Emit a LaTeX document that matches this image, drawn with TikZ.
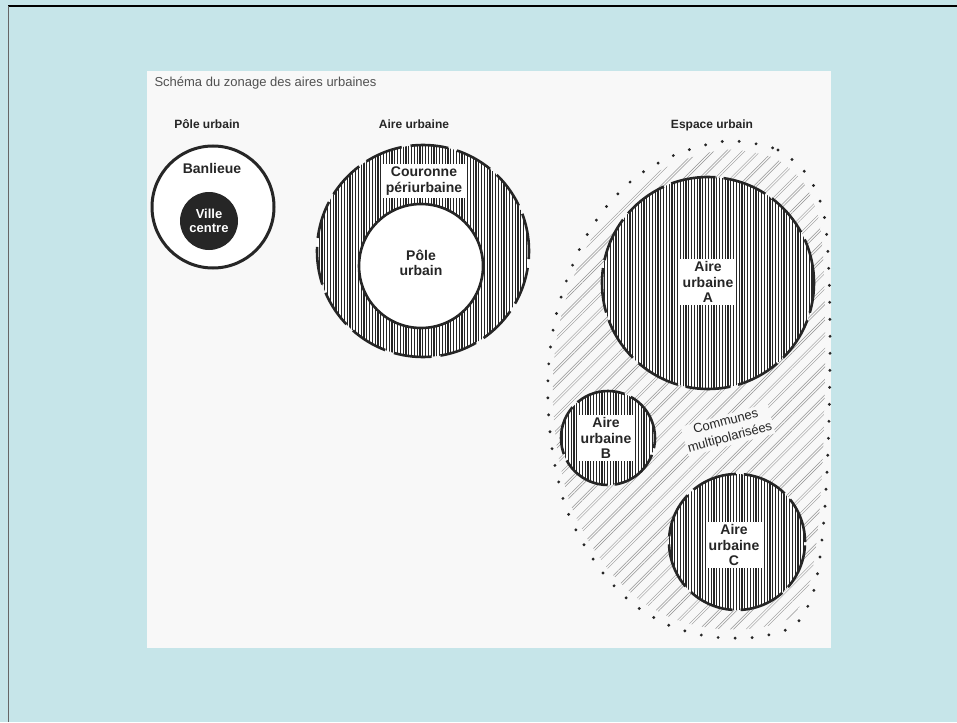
\documentclass[tikz,border=0pt]{standalone}
\usepackage{fontspec}
\setmainfont{Liberation Sans}
\usetikzlibrary{patterns.meta}
\definecolor{fond}{HTML}{C6E5E9}
\definecolor{papier}{HTML}{F8F8F8}
\definecolor{encre}{HTML}{262626}

\begin{document}
\begin{tikzpicture}[x=1pt,y=-1pt,
  every node/.style={font=\fontsize{14}{15.5}\selectfont\bfseries, text=encre, align=center},
  titre/.style={font=\fontsize{12}{14}\selectfont\bfseries, anchor=base},
  etiquette/.style={fill=white, inner sep=2.5pt},
  rond/.style={circle, inner sep=0pt, outer sep=0pt},
  raye/.style={preaction={fill=white}, pattern={Lines[angle=90,distance=2.8pt,line width=1.1pt]}, pattern color=encre},
  tirets/.style={draw=encre, line width=2.6pt, dash pattern=on 40pt off 8pt},
  oblique/.style={pattern={Lines[angle=45,distance=11pt,line width=0.45pt]}, pattern color=encre!50},
  points/.style={draw=encre, line width=3.2pt, line cap=round, dash pattern=on 0pt off 17pt}]
\useasboundingbox (0,0) rectangle (957,722);
\fill[fond] (0,0) rectangle (957,722);
\draw[black, line width=1.2pt] (8,6) -- (957,6);
\draw[black!60, line width=1pt] (8,6) -- (8,722);
\fill[papier] (147,71) rectangle (831,648);

\coordinate (c1) at (213,207);
\coordinate (c2) at (423,251);
\coordinate (c3) at (421,266);
\coordinate (cA) at (708,283);
\coordinate (cB) at (608,438);
\coordinate (cC) at (737,542);

\node[font=\fontsize{13}{15}\selectfont, text=encre!80, anchor=base west] (schema) at (151,87) {Schéma du zonage des aires urbaines};
\node[titre] (tPole) at (207,129) {Pôle urbain};
\node[titre] (tAire) at (414,129) {Aire urbaine};
\node[titre] (tEspace) at (712,129) {Espace urbain};

\node[rond, draw=encre, line width=3pt, fill=white, minimum size=122pt] (pole) at (c1) {};
\node (banlieue) at (212,168) {Banlieue};
\node[rond, fill=encre, minimum size=58pt, text=white, font=\fontsize{13}{14.5}\selectfont\bfseries] (ville) at (209,221) {Ville\\centre};

\node[rond, raye, tirets, dash pattern=on 38pt off 9pt, minimum size=212pt] (aire) at (c2) {};
\node[rond, draw=encre, line width=2.6pt, fill=white, minimum size=124pt] (poleAire) at (c3) {};
\node[etiquette] (couronne) at (424,181) {Couronne\\périurbaine};
\node (pu) at (421,263) {Pôle\\urbain};

\path[oblique, scale around={0.965:(690,390)}] plot[smooth cycle] coordinates {(735,141) (778,150) (808,176) (824,215) (829,275) (830,360) (828,450) (823,530) (814,590) (795,625) (757,637) (713,637) (673,627) (637,607) (607,578) (583,543) (565,505) (553,455) (548,405) (549,360) (555,320) (566,282) (583,242) (606,207) (636,177) (670,157) (705,145)};
\path[oblique, pattern={Lines[angle=45,distance=11pt,line width=0.45pt,xshift=3pt]}, scale around={0.965:(690,390)}] plot[smooth cycle] coordinates {(735,141) (778,150) (808,176) (824,215) (829,275) (830,360) (828,450) (823,530) (814,590) (795,625) (757,637) (713,637) (673,627) (637,607) (607,578) (583,543) (565,505) (553,455) (548,405) (549,360) (555,320) (566,282) (583,242) (606,207) (636,177) (670,157) (705,145)};
\draw[points] plot[smooth cycle] coordinates {(735,141) (778,150) (808,176) (824,215) (829,275) (830,360) (828,450) (823,530) (814,590) (795,625) (757,637) (713,637) (673,627) (637,607) (607,578) (583,543) (565,505) (553,455) (548,405) (549,360) (555,320) (566,282) (583,242) (606,207) (636,177) (670,157) (705,145)};

\node[rond, raye, tirets, dash pattern=on 45pt off 8pt, minimum size=212pt] (aireA) at (cA) {};
\node[rond, raye, tirets, dash pattern=on 50pt off 7pt, minimum size=94pt] (aireB) at (cB) {};
\node[rond, raye, tirets, dash pattern=on 46pt off 8pt, minimum size=136pt] (aireC) at (cC) {};
\node[etiquette] (labA) at (708,282) {Aire\\urbaine\\A};
\node[etiquette] (labB) at (606,438) {Aire\\urbaine\\B};
\node[etiquette] (labC) at (734,545) {Aire\\urbaine\\C};

\node[font=\fontsize{13}{16}\selectfont, fill=papier, inner sep=1.5pt, rotate=15] (communes) at (728,430) {Communes\\multipolarisées};
\end{tikzpicture}
\end{document}
